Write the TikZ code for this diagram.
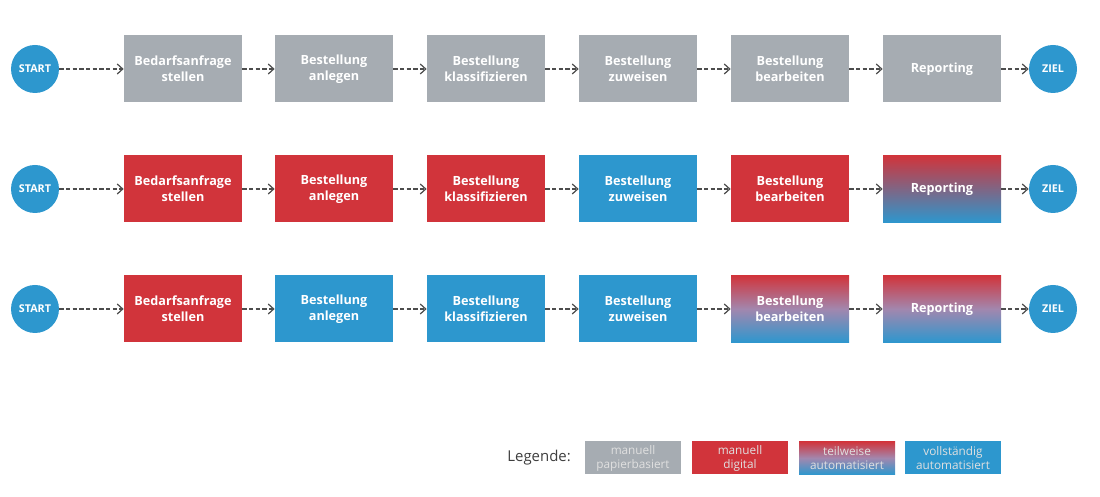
\documentclass[tikz,border=0pt]{standalone}
\usepackage{fontspec}
\setmainfont{Open Sans}
\usetikzlibrary{arrows.meta}

\definecolor{papiergrau}{HTML}{A6ACB2}
\definecolor{digitalrot}{HTML}{D1343B}
\definecolor{autoblau}{HTML}{2D97CE}
\definecolor{pfeilgrau}{HTML}{4D4D4D}
\definecolor{mischhell}{HTML}{A287AE}

\tikzset{
  schritt/.style={minimum width=2.36cm, minimum height=1.34cm, inner sep=0pt,
    align=center, text=white, font=\fontsize{7.2}{9.1}\selectfont\bfseries},
  papier/.style={schritt, fill=papiergrau},
  digital/.style={schritt, fill=digitalrot},
  automat/.style={schritt, fill=autoblau},
  teilA/.style={schritt, top color=digitalrot, bottom color=autoblau},
  teilB/.style={schritt, top color=digitalrot, bottom color=autoblau, middle color=mischhell},
  rund/.style={circle, fill=autoblau, minimum size=0.96cm, inner sep=0pt,
    text=white, font=\fontsize{6.1}{7}\selectfont\bfseries},
  fluss/.style={draw=pfeilgrau, line width=0.7pt, dash pattern=on 2.4pt off 1.4pt,
    -{Straight Barb[length=1.1mm, width=2mm, line width=0.7pt]}},
  legbox/.style={minimum width=1.92cm, minimum height=0.66cm, inner sep=0pt,
    align=center, text=white!88!black, font=\fontsize{6.7}{8}\selectfont}
}

\begin{document}
\begin{tikzpicture}
\useasboundingbox (0,0) rectangle (22,9.94);
% Zeile 1: manuell papierbasiert
\node [rund] (start1) at (0.70,8.56) {START};
\node [papier] (bedarf1) at (3.66,8.56) {Bedarfsanfrage\\stellen};
\node [papier] (anlegen1) at (6.68,8.56) {Bestellung\\anlegen};
\node [papier] (klass1) at (9.72,8.56) {Bestellung\\klassifizieren};
\node [papier] (zuweisen1) at (12.76,8.56) {Bestellung\\zuweisen};
\node [papier] (bearb1) at (15.80,8.56) {Bestellung\\bearbeiten};
\node [papier] (report1) at (18.84,8.56) {Reporting};
\node [rund] (ziel1) at (21.06,8.56) {ZIEL};
\draw [fluss] (start1)--(bedarf1);
\draw [fluss] (bedarf1)--(anlegen1);
\draw [fluss] (anlegen1)--(klass1);
\draw [fluss] (klass1)--(zuweisen1);
\draw [fluss] (zuweisen1)--(bearb1);
\draw [fluss] (bearb1)--(report1);
\draw [fluss] (report1)--(ziel1);
%
% Zeile 2
\node [rund] (start2) at (0.70,6.16) {START};
\node [digital] (bedarf2) at (3.66,6.16) {Bedarfsanfrage\\stellen};
\node [digital] (anlegen2) at (6.68,6.16) {Bestellung\\anlegen};
\node [digital] (klass2) at (9.72,6.16) {Bestellung\\klassifizieren};
\node [automat] (zuweisen2) at (12.76,6.16) {Bestellung\\zuweisen};
\node [digital] (bearb2) at (15.80,6.16) {Bestellung\\bearbeiten};
\node [teilA] (report2) at (18.84,6.16) {Reporting};
\node [rund] (ziel2) at (21.06,6.16) {ZIEL};
\draw [fluss] (start2)--(bedarf2);
\draw [fluss] (bedarf2)--(anlegen2);
\draw [fluss] (anlegen2)--(klass2);
\draw [fluss] (klass2)--(zuweisen2);
\draw [fluss] (zuweisen2)--(bearb2);
\draw [fluss] (bearb2)--(report2);
\draw [fluss] (report2)--(ziel2);
%
% Zeile 3
\node [rund] (start3) at (0.70,3.76) {START};
\node [digital] (bedarf3) at (3.66,3.76) {Bedarfsanfrage\\stellen};
\node [automat] (anlegen3) at (6.68,3.76) {Bestellung\\anlegen};
\node [automat] (klass3) at (9.72,3.76) {Bestellung\\klassifizieren};
\node [automat] (zuweisen3) at (12.76,3.76) {Bestellung\\zuweisen};
\node [teilB] (bearb3) at (15.80,3.76) {Bestellung\\bearbeiten};
\node [teilB] (report3) at (18.84,3.76) {Reporting};
\node [rund] (ziel3) at (21.06,3.76) {ZIEL};
\draw [fluss] (start3)--(bedarf3);
\draw [fluss] (bedarf3)--(anlegen3);
\draw [fluss] (anlegen3)--(klass3);
\draw [fluss] (klass3)--(zuweisen3);
\draw [fluss] (zuweisen3)--(bearb3);
\draw [fluss] (bearb3)--(report3);
\draw [fluss] (report3)--(ziel3);
%
% Legende
\node [anchor=east, text=pfeilgrau!80!black, font=\fontsize{8.5}{10}\selectfont] (legende) at (11.54,0.78) {Legende:};
\node [legbox, fill=papiergrau] (lgpapier) at (12.66,0.78) {manuell\\papierbasiert};
\node [legbox, fill=digitalrot] (lgdigital) at (14.80,0.78) {manuell\\digital};
\node [legbox, top color=digitalrot, bottom color=autoblau, middle color=mischhell] (lgteil) at (16.94,0.78) {teilweise\\automatisiert};
\node [legbox, fill=autoblau] (lgauto) at (19.06,0.78) {vollständig\\automatisiert};
\end{tikzpicture}
\end{document}
